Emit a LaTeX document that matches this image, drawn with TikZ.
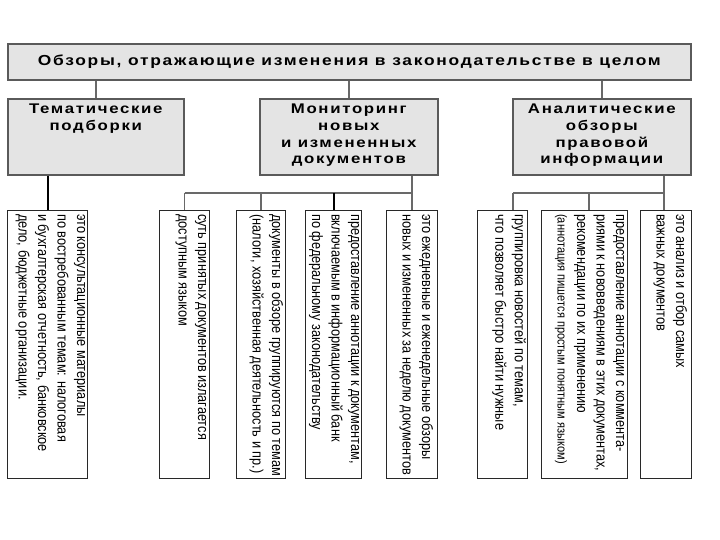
\documentclass[tikz,border=0pt]{standalone}
\usepackage{fontspec}
\setmainfont{Liberation Sans}
\newfontfamily\titlefont[FakeStretch=1.2,LetterSpace=12]{Liberation Sans}
\newfontfamily\leaffont[FakeStretch=0.85]{Liberation Sans}
\usetikzlibrary{calc}
\definecolor{boxfill}{RGB}{228,228,228}
\definecolor{boxline}{RGB}{90,90,90}
\definecolor{connc}{RGB}{105,105,105}
\definecolor{leafline}{RGB}{40,40,40}
\tikzset{
  hdr/.style={draw=boxline, fill=boxfill, line width=1.6pt, inner sep=0pt, anchor=north west},
  leaf/.style={draw=leafline, fill=white, line width=1.3pt, inner sep=0pt, anchor=north west, minimum height=268pt},
  ttl/.style={font=\titlefont\bfseries\fontsize{14}{16.7}\selectfont, align=center, inner sep=0pt},
  ttltop/.style={font=\titlefont\bfseries\fontsize{14.5}{17}\selectfont, align=center, inner sep=0pt},
  ltxt/.style={font=\leaffont\fontsize{15}{19.5}\selectfont, align=left, rotate=-90, anchor=north west, inner sep=0pt},
  conn/.style={draw=connc, line width=1.5pt},
  connb/.style={draw=black, line width=2.2pt},
}
\begin{document}
\begin{tikzpicture}[x=1pt,y=-1pt]
\useasboundingbox[fill=white] (0,0) rectangle (720,540);
% top box
\node[hdr, ttltop, anchor=north west, minimum width=683pt, minimum height=36pt] (top) at (7,43)
  {Обзоры, отражающие изменения в законодательстве в целом};
% middle boxes
\node[hdr, minimum width=176pt, minimum height=76pt] (m1) at (7,98) {};
\node[hdr, minimum width=178pt, minimum height=76pt] (m2) at (259,98) {};
\node[hdr, minimum width=178pt, minimum height=76pt] (m3) at (512,98) {};
\node[ttl, anchor=north] (m1t) at ($(m1.north)+(0,6)$) {Тематические\\подборки};
\node[ttl, anchor=north] (m2t) at ($(m2.north)+(0,6)$) {Мониторинг\\новых\\и измененных\\документов};
\node[ttl, anchor=north] (m3t) at ($(m3.north)+(0,6)$) {Аналитические\\обзоры\\правовой\\информации};
% leaf boxes
\node[leaf, minimum width=80pt] (L1) at (7,210) {};
\node[leaf, minimum width=50pt] (M1) at (159,210) {};
\node[leaf, minimum width=49pt] (M2) at (236,210) {};
\node[leaf, minimum width=56pt] (M3) at (305,210) {};
\node[leaf, minimum width=51pt] (M4) at (386,210) {};
\node[leaf, minimum width=50pt] (R1) at (477,210) {};
\node[leaf, minimum width=86pt] (R2) at (541,210) {};
\node[leaf, minimum width=51pt] (R3) at (640,210) {};
% leaf texts
\node[ltxt] (L1t) at ($(L1.north east)+(-3,4)$) {это консультационные материалы\\по востребованным темам: налоговая\\и бухгалтерская отчетность, банковское\\дело, бюджетные организации.};
\node[ltxt] (M1t) at ($(M1.north east)+(-4,4)$) {суть принятых документов излагается\\доступным языком};
\node[ltxt] (M2t) at ($(M2.north east)+(-3,4)$) {документы в обзоре группируются по темам\\(налоги, хозяйственная деятельность и пр.)};
\node[ltxt] (M3t) at ($(M3.north east)+(-3,4)$) {предоставление аннотации к документам,\\включаемым в информационный банк\\по федеральному законодательству};
\node[ltxt] (M4t) at ($(M4.north east)+(-5,4)$) {это ежедневные и еженедельные обзоры\\новых и измененных за неделю документов};
\node[ltxt] (R1t) at ($(R1.north east)+(-2,4)$) {группировка новостей по темам,\\что позволяет быстро найти нужные};
\node[ltxt] (R2t) at ($(R2.north east)+(-4,4)$) {предоставление аннотации с коммента-\\риями к нововведениям в этих документах,\\рекомендации по их применению\\{\fontsize{13}{19}\selectfont(аннотация пишется простым понятным языком)}};
\node[ltxt] (R3t) at ($(R3.north east)+(-5,4)$) {это анализ и отбор самых\\важных документов};
% connectors: top to middle
\draw[conn] (top.south -| m1.north) -- (m1.north);
\draw[conn] (top.south -| m2.north) -- (m2.north);
\draw[conn] (top.south -| m3.north) -- (m3.north);
% left group
\draw[connb] (m1.south -| L1.north) -- (L1.north);
% middle group
\coordinate (busm) at (0,193);
\draw[conn] (m2.south -| M4.north) -- (busm -| M4.north);
\draw[conn] (busm -| M1.north) -- (busm -| M4.north);
\draw[conn] (busm -| M1.north) -- (M1.north);
\draw[conn] (busm -| M2.north) -- (M2.north);
\draw[connb] (busm -| M3.north) -- (M3.north);
\draw[conn] (busm -| M4.north) -- (M4.north);
% right group
\coordinate (r1d) at (513,193);
\coordinate (r2d) at (589,193);
\coordinate (r3d) at (664,193);
\draw[conn] (m3.south -| r3d) -- (r3d);
\draw[conn] (r1d) -- (r3d);
\draw[conn] (r1d) -- (r1d |- R1.north);
\draw[conn] (r2d) -- (r2d |- R2.north);
\draw[conn] (r3d) -- (r3d |- R3.north);
\end{tikzpicture}
\end{document}
